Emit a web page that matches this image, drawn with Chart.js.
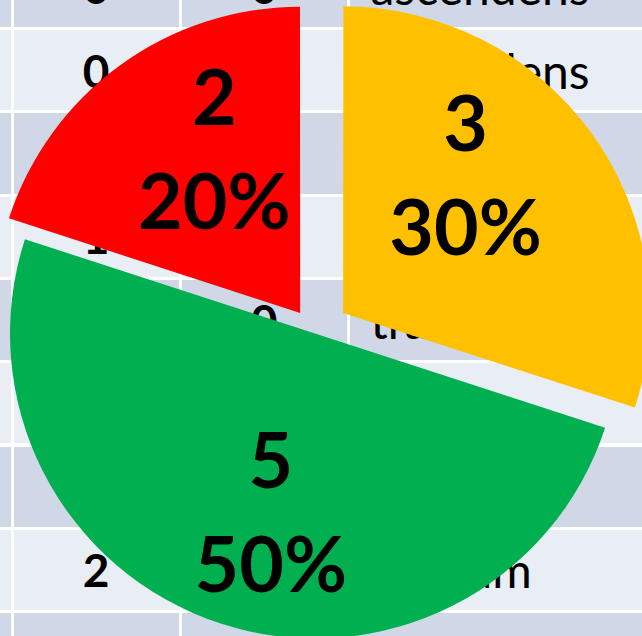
<!DOCTYPE html>
<html>
<head>
<meta charset="utf-8">
<script src="https://cdn.jsdelivr.net/npm/chart.js@4.4.1/dist/chart.umd.min.js"></script>
<style>
body { margin: 0; background: #fff; }
#wrap { position: relative; width: 642px; height: 636px; overflow: hidden; background: #fff; font-family: Lato, sans-serif; }
.cell { position: absolute; display: flex; align-items: center; box-sizing: border-box; color: #000; white-space: nowrap; overflow: hidden; }
.num { justify-content: center; font-weight: bold; font-size: 46px; }
.txt { padding-left: 21px; font-size: 48px; }
canvas { position: absolute; left: 0; top: 0; }
</style>
</head>
<body>
<div id="wrap"><canvas id="pieChart" width="642" height="636"></canvas></div>
<script>
// pie data (clockwise from 12 o'clock)
const categories = ['A', 'B', 'C'];
const values = [3, 5, 2];
const sliceColors = ['#FFC000', '#00B050', '#FF0000'];
const explode = [139, 0, 101];

// worksheet behind the chart
const tableCol1 = ['0', '0', '', '1', '', '', '', '2', ''];
const tableCol2 = ['0', '0', '', '', '0', '', '', '', ''];
const tableCol3 = ['ascendens', 'ascendens', '', '', 'transversum', '', '', 'caecum', 'colon'];

const wrap = document.getElementById('wrap');
const canvas = document.getElementById('pieChart');
const colEdges = [-156, 12, 180, 348, 800];
const rowH = 83.3;
const rowStart = 28.5 - rowH;

function addCell(x0, x1, y0, y1, bg, text, cls) {
    const d = document.createElement('div');
    d.className = 'cell ' + cls;
    d.style.left = (x0 + 1.5) + 'px';
    d.style.width = (x1 - x0 - 3) + 'px';
    d.style.top = (y0 + 1.5) + 'px';
    d.style.height = (y1 - y0 - 3) + 'px';
    d.style.background = bg;
    d.textContent = text;
    wrap.insertBefore(d, canvas);
}

for (let r = 0; r < tableCol3.length; r++) {
    const y0 = rowStart + r * rowH;
    const y1 = y0 + rowH;
    const bg = r % 2 === 0 ? '#D0D8E8' : '#E9EDF4';
    addCell(colEdges[0], colEdges[1], y0, y1, bg, '', 'num');
    addCell(colEdges[1], colEdges[2], y0, y1, bg, tableCol1[r], 'num');
    addCell(colEdges[2], colEdges[3], y0, y1, bg, tableCol2[r], 'num');
    addCell(colEdges[3], colEdges[4], y0, y1, bg, tableCol3[r], 'txt');
}

// value + percent labels inside each slice
const sliceLabels = {
    id: 'sliceLabels',
    afterDatasetsDraw(chart) {
        const ctx = chart.ctx;
        const meta = chart.getDatasetMeta(0);
        const total = values.reduce((a, b) => a + b, 0);
        const size = 77;
        ctx.save();
        ctx.font = 'bold ' + size + 'px Lato';
        ctx.fillStyle = '#000';
        ctx.textAlign = 'center';
        ctx.textBaseline = 'alphabetic';
        meta.data.forEach((arc, i) => {
            const p = arc.getProps(['x', 'y', 'startAngle', 'endAngle', 'outerRadius'], true);
            let mid = (p.startAngle + p.endAngle) / 2;
            mid = Math.atan2(Math.sin(mid), Math.cos(mid));
            const shift = (arc.options.offset || 0) / 4;
            const ax = p.x + Math.cos(mid) * shift;
            const ay = p.y + Math.sin(mid) * shift;
            const target = Math.sin(mid) >= 0 ? Math.PI / 2 : -Math.PI / 2;
            const a = mid + (target - mid) * 0.23;
            const d = p.outerRadius * 0.605;
            const lx = ax + Math.cos(a) * d;
            const ly = ay + Math.sin(a) * d;
            const half = size * 0.717 / 2;
            ctx.fillText(String(values[i]), lx, ly - 52 + half);
            ctx.fillText(Math.round(values[i] / total * 100) + '%', lx, ly + 52 + half);
        });
        ctx.restore();
    }
};

new Chart(canvas.getContext('2d'), {
    type: 'pie',
    data: {
        labels: categories,
        datasets: [{
            data: values,
            backgroundColor: sliceColors,
            borderWidth: 0,
            offset: explode,
            hoverOffset: 0
        }]
    },
    options: {
        responsive: false,
        animation: false,
        radius: 305,
        layout: { padding: { top: 31, right: 12, left: 0, bottom: 0 } },
        plugins: {
            legend: { display: false },
            tooltip: { enabled: false }
        }
    },
    plugins: [sliceLabels]
});
</script>
</body>
</html>
